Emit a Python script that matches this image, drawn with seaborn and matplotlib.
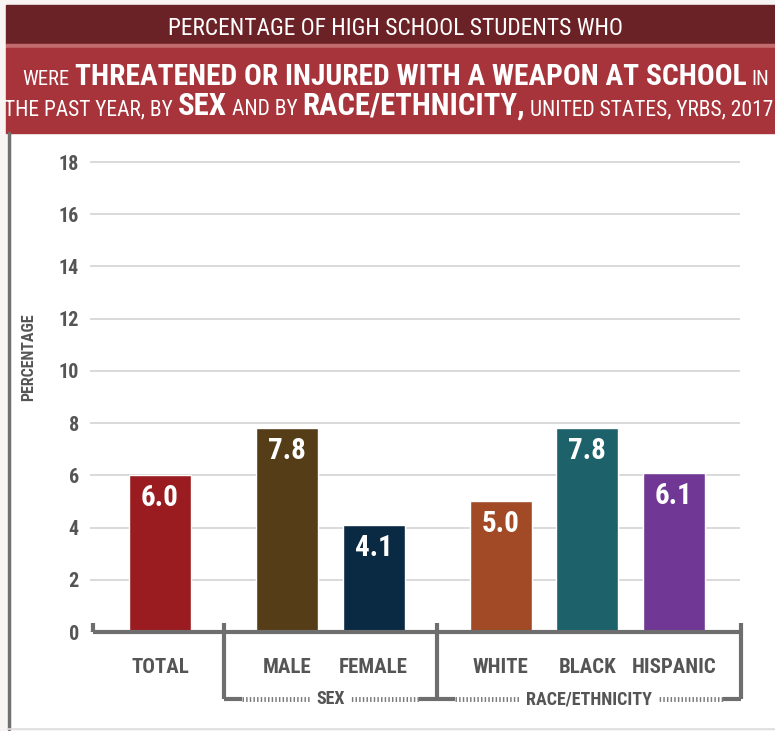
import pandas as pd
import seaborn as sns
import matplotlib.pyplot as plt
from matplotlib import font_manager as fm
from matplotlib.patches import Rectangle
from matplotlib.lines import Line2D

# Data
groups = ["", "SEX", "RACE/ETHNICITY"]
group_members = [["TOTAL"], ["MALE", "FEMALE"], ["WHITE", "BLACK", "HISPANIC"]]
values = [6.0, 7.8, 4.1, 5.0, 7.8, 6.1]
bar_colors = ["#9a1c20", "#553e17", "#0a2942", "#a24a25", "#1d616a", "#703795"]
y_ticks = [0, 2, 4, 6, 8, 10, 12, 14, 16, 18]

W, H = 775, 731
GRAY = "#555555"
LINE_GRAY = "#6e6e6e"


def pick_font(prefs):
    # first condensed family that also has a bold face
    have = {}
    for f in fm.fontManager.ttflist:
        w = f.weight if isinstance(f.weight, int) else 700 if "bold" in str(f.weight) else 400
        have.setdefault(f.name, set()).add(w)
    for fam in prefs:
        if fam in have and max(have[fam]) >= 700:
            return fam
    return "DejaVu Sans"


COND = pick_font(["Roboto Condensed", "Liberation Sans Narrow", "PT Sans Narrow",
                  "Archivo Narrow", "Open Sans Condensed", "Encode Sans Condensed",
                  "IBM Plex Sans Condensed", "Fira Sans Condensed", "Asap Condensed",
                  "Barlow Condensed", "Oswald"])
FONT = [COND, "DejaVu Sans"]


def fx(px):
    return px / W


def fy(py):
    return 1 - py / H


# bar positions: unit spacing inside a group, wider gap between groups
group_gap = 1.47
positions, categories, group_of = [], [], []
pos = 0.0
for gi, members in enumerate(group_members):
    if gi > 0:
        pos += group_gap - 1
    for m in members:
        positions.append(pos)
        categories.append(m)
        group_of.append(groups[gi])
        pos += 1
df = pd.DataFrame({"category": categories, "pos": positions,
                   "value": values, "group": group_of})

sns.set_theme(style="white")
plt.rcParams["font.family"] = FONT

fig = plt.figure(figsize=(W / 100, H / 100), dpi=100)
fig.patch.set_facecolor("#f8f4f3")

# white card, header bands and frame lines (behind the axes)
bg = dict(transform=fig.transFigure, zorder=-5)
fig.patches.append(Rectangle((fx(7), fy(728)), fx(775 - 7), 595 / H, color="white", **bg))
fig.patches.append(Rectangle((fx(6), fy(44)), 1, 39 / H, color="#6b2226", **bg))
fig.patches.append(Rectangle((fx(6), fy(48)), 1, 4 / H, color="#c26a6d", **bg))
fig.patches.append(Rectangle((fx(6), fy(133)), 1, 85 / H, color="#a8343b", **bg))
fig.lines.append(Line2D([fx(8.5), fx(8.5)], [fy(133), fy(729)],
                        transform=fig.transFigure, color="#707070", lw=2.5, zorder=-4))
fig.lines.append(Line2D([fx(8), 1], [fy(729), fy(729)],
                        transform=fig.transFigure, color="#dddddd", lw=1.2, zorder=-4))

# header text, each line fitted to the span it has in the reference
SMALL, BIG = 14, 20
header_lines = [
    # baseline px, left px, right px, pieces
    (35, 163, 629, [("PERCENTAGE OF HIGH SCHOOL STUDENTS WHO", SMALL, "normal")]),
    (85, 22, 770, [("WERE", SMALL, "normal"),
                   ("THREATENED OR INJURED WITH A WEAPON AT SCHOOL", BIG, "bold"),
                   ("IN", SMALL, "normal")]),
    (115, 2, 776, [("THE PAST YEAR, BY", SMALL, "normal"), ("SEX", BIG, "bold"),
                   ("AND BY", SMALL, "normal"), ("RACE/ETHNICITY,", BIG, "bold"),
                   ("UNITED STATES, YRBS, 2017", SMALL, "normal")]),
]
renderer = fig.canvas.get_renderer()
gap_px = 5
for y_px, left, right, pieces in header_lines:
    texts = [fig.text(0, fy(y_px), s, color="white", fontsize=fs,
                      fontweight=fw, ha="left", va="baseline")
             for s, fs, fw in pieces]
    widths = [t.get_window_extent(renderer).width for t in texts]
    scale = (right - left - gap_px * (len(texts) - 1)) / sum(widths)
    scale = min(scale, 1.2)
    for t, (s, fs, fw) in zip(texts, pieces):
        t.set_fontsize(fs * scale)
    widths = [t.get_window_extent(renderer).width for t in texts]
    total = sum(widths) + gap_px * (len(texts) - 1)
    x = (left + right) / 2 - total / 2
    for t, w in zip(texts, widths):
        t.set_x(fx(x))
        x += w + gap_px

# chart axes
px_per_unit = (632 - 162) / 18
ax_top_px = 150
ax = fig.add_axes([fx(90), fy(632), fx(740 - 90), (632 - ax_top_px) / H])
ax.set_facecolor("none")

sns.barplot(data=df, x="pos", y="value", hue="category",
            palette=dict(zip(categories, bar_colors)), native_scale=True,
            width=0.72, legend=False, saturation=1, ax=ax, zorder=3)

first, last = positions[0], positions[-1]
ax.set_xlim(first - (160 - 90) / 86.5, first + (740 - 160) / 86.5)
ax.set_ylim(0, (632 - ax_top_px) / px_per_unit)
ax.set_yticks(y_ticks)
ax.yaxis.grid(True, color="#cfcfcf", lw=1.1, zorder=0)
ax.set_axisbelow(True)
for s in ax.spines.values():
    s.set_visible(False)
ax.tick_params(axis="y", length=0, pad=8, labelsize=14.5, labelcolor=GRAY)
for lab in ax.get_yticklabels():
    lab.set_fontweight("bold")
ax.set_xticks(positions)
ax.set_xticklabels(categories, fontsize=15, fontweight="bold", color=GRAY)
ax.tick_params(axis="x", length=0, pad=19)
ax.set_xlabel("")
ax.set_ylabel("PERCENTAGE", fontsize=11.5, fontweight="bold", color=GRAY)
# label sits a bit above the middle of the axis, as in the reference
ax.yaxis.set_label_coords((36 - 90) / 650, (632 - 357) / (632 - ax_top_px))

# value labels inside bar tops
for p, v in zip(ax.patches, df["value"]):
    ax.annotate(f"{v:.1f}", (p.get_x() + p.get_width() / 2, p.get_height()),
                xytext=(0, -16.5), textcoords="offset points", ha="center",
                va="center", color="white", fontsize=21, fontweight="bold",
                zorder=5)

# baseline with group brackets
tick_up = 9 / px_per_unit
bracket_y = -(699 - 632) / px_per_unit
left_end, right_end = first - 0.78, last + 0.78
dividers = []
idx = 0
for members in group_members[:-1]:
    idx += len(members)
    dividers.append((positions[idx - 1] + positions[idx]) / 2)

kw = dict(color=LINE_GRAY, lw=3, clip_on=False, solid_capstyle="butt", zorder=4)
ax.plot([left_end, right_end], [0, 0], **kw)
ax.plot([left_end, left_end], [0, tick_up], **kw)
ax.plot([right_end, right_end], [bracket_y, tick_up], **kw)
for d in dividers:
    ax.plot([d, d], [bracket_y, tick_up], **kw)

edges = dividers + [right_end]
solid = 18 / 86.5
for name, a, b in zip(groups[1:], edges[:-1], edges[1:]):
    ax.plot([a, a + solid], [bracket_y, bracket_y], **kw)
    ax.plot([b - solid, b], [bracket_y, bracket_y], **kw)
    ax.plot([a + solid, b - solid], [bracket_y, bracket_y], color="#7a7a7a",
            lw=3.5, dashes=(0.3, 0.45), clip_on=False, zorder=4)
    ax.text((a + b) / 2, bracket_y, name, ha="center", va="center",
            fontsize=13, fontweight="bold", color=GRAY, zorder=6,
            bbox=dict(facecolor="white", edgecolor="none", pad=4))

fig.savefig("out.png", dpi=100, facecolor=fig.get_facecolor())
